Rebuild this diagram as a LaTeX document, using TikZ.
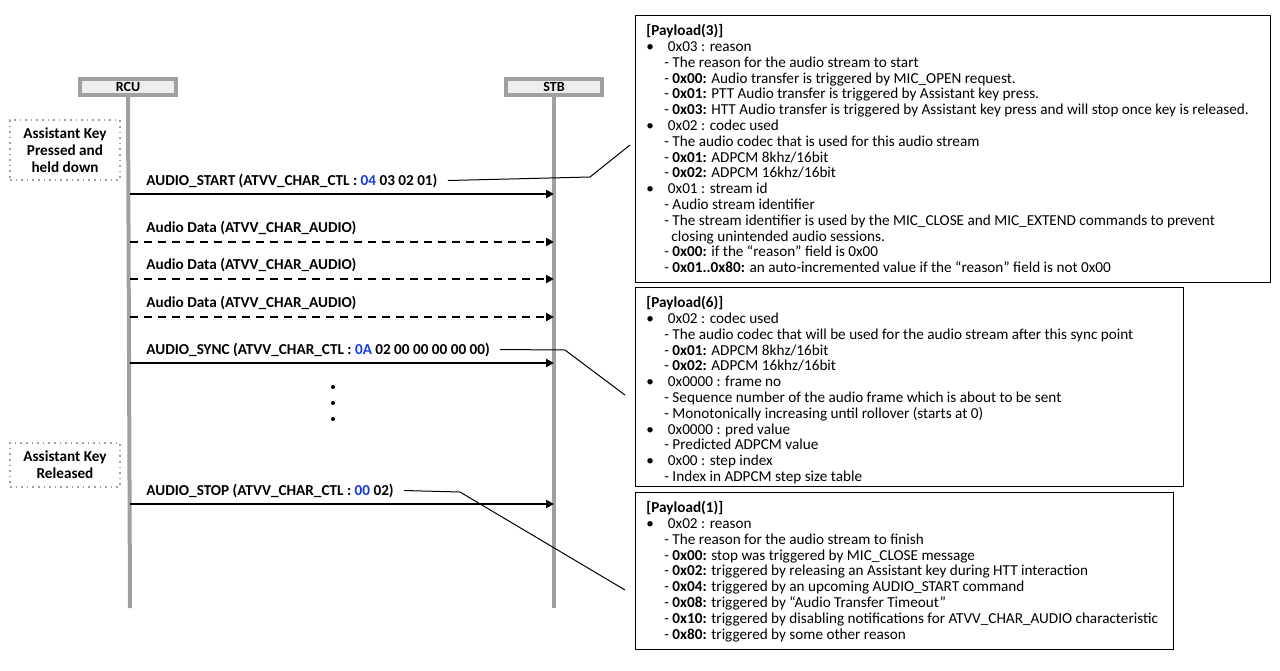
\documentclass[tikz,border=0pt]{standalone}
\usepackage{fontspec}
\setmainfont{Carlito}
\usetikzlibrary{arrows.meta,positioning}
\definecolor{lifegray}{RGB}{160,160,160}
\definecolor{headfill}{RGB}{238,238,238}
\definecolor{valblue}{RGB}{20,60,220}
\tikzset{
  head/.style={draw=lifegray,fill=headfill,line width=2pt,minimum width=48pt,minimum height=8pt,inner sep=0pt,font=\fontsize{7}{8}\selectfont\bfseries},
  life/.style={draw=lifegray,line width=2pt},
  event/.style={draw=lifegray,dotted,thick,minimum width=55pt,align=center,font=\fontsize{7.6}{8.6}\selectfont\bfseries,inner sep=2pt},
  msg/.style={-{Triangle[length=4pt,width=4pt]},line width=1pt},
  data/.style={msg,dash pattern=on 4pt off 3pt},
  lab/.style={anchor=base west,font=\fontsize{7.6}{9}\selectfont\bfseries,inner sep=1pt},
  payload/.style={draw,line width=0.6pt,anchor=north west,inner sep=0pt},
  ptext/.style={anchor=north west,align=left,inner sep=0pt,font=\fontsize{7.6}{7.9}\selectfont},
  leader/.style={line width=0.5pt}
}
\newcommand\hx[1]{\textcolor{valblue}{#1}}
\newcommand\bl{\textbullet\hspace{7pt}}
\newcommand\sub{\hspace{9pt}- }
\begin{document}
\begin{tikzpicture}[x=0.5pt,y=-0.5pt]
\useasboundingbox (0,0) rectangle (1280,670);
% lifelines
\node[head] (rcu) at (128,87) {RCU};
\node[head] (stb) at (554,87) {STB};
\coordinate (rcuend) at (130,608);
\coordinate (stbend) at (554,608);
\draw[life] (rcu.south) -- (rcuend);
\draw[life] (stb.south) -- (stbend);
% key events
\node[event,minimum height=30pt] (press) at (65,150) {Assistant Key\\Pressed and\\held down};
\node[event,minimum height=22pt] (release) at (65,465) {Assistant Key\\Released};
% messages
\foreach \y/\n in {194/m1,242/m2,279/m3,317/m4,363/m5,504/m6}
{
    \coordinate (\n a) at (130,\y);
    \coordinate (\n b) at (554,\y);
}
\node[lab] (l1) at (144,185) {AUDIO\_START (ATVV\_CHAR\_CTL : \hx{04} 03 02 01)};
\node[lab] (l2) at (144,232) {Audio Data (ATVV\_CHAR\_AUDIO)};
\node[lab] (l3) at (144,269) {Audio Data (ATVV\_CHAR\_AUDIO)};
\node[lab] (l4) at (144,307) {Audio Data (ATVV\_CHAR\_AUDIO)};
\node[lab] (l5) at (144,354) {AUDIO\_SYNC (ATVV\_CHAR\_CTL : \hx{0A} 02 00 00 00 00 00)};
\node[lab] (l6) at (144,495) {AUDIO\_STOP (ATVV\_CHAR\_CTL : \hx{00} 02)};
\draw[msg] (m1a) -- (m1b);
\draw[data] (m2a) -- (m2b);
\draw[data] (m3a) -- (m3b);
\draw[data] (m4a) -- (m4b);
\draw[msg] (m5a) -- (m5b);
\draw[msg] (m6a) -- (m6b);
\foreach \y in {387,403,419}
    \fill (333,\y) circle (1pt);
% payload boxes
\node[payload,minimum width=317.5pt,minimum height=133.5pt] (p3) at (635,15) {};
\node[payload,minimum width=274pt,minimum height=99.5pt] (p6) at (635,287) {};
\node[payload,minimum width=269pt,minimum height=78.5pt] (p1) at (635,492) {};
\node[ptext] at ([xshift=5.5pt,yshift=-4.5pt]p3.north west) {\textbf{[Payload(3)]}\\
\bl 0x03 : reason\\
\sub The reason for the audio stream to start\\
\sub \textbf{0x00:} Audio transfer is triggered by MIC\_OPEN request.\\
\sub \textbf{0x01:} PTT Audio transfer is triggered by Assistant key press.\\
\sub \textbf{0x03:} HTT Audio transfer is triggered by Assistant key press and will stop once key is released.\\
\bl 0x02 : codec used\\
\sub The audio codec that is used for this audio stream\\
\sub \textbf{0x01:} ADPCM 8khz/16bit\\
\sub \textbf{0x02:} ADPCM 16khz/16bit\\
\bl 0x01 : stream id\\
\sub Audio stream identifier\\
\sub The stream identifier is used by the MIC\_CLOSE and MIC\_EXTEND commands to prevent\\
\hspace{12.5pt}closing unintended audio sessions.\\
\sub \textbf{0x00:} if the ``reason'' field is 0x00\\
\sub \textbf{0x01..0x80:} an auto-incremented value if the ``reason'' field is not 0x00};
\node[ptext] at ([xshift=5.5pt,yshift=-4.5pt]p6.north west) {\textbf{[Payload(6)]}\\
\bl 0x02 : codec used\\
\sub The audio codec that will be used for the audio stream after this sync point\\
\sub \textbf{0x01:} ADPCM 8khz/16bit\\
\sub \textbf{0x02:} ADPCM 16khz/16bit\\
\bl 0x0000 : frame no\\
\sub Sequence number of the audio frame which is about to be sent\\
\sub Monotonically increasing until rollover (starts at 0)\\
\bl 0x0000 : pred value\\
\sub Predicted ADPCM value\\
\bl 0x00 : step index\\
\sub Index in ADPCM step size table};
\node[ptext] at ([xshift=5.5pt,yshift=-4.5pt]p1.north west) {\textbf{[Payload(1)]}\\
\bl 0x02 : reason\\
\sub The reason for the audio stream to finish\\
\sub \textbf{0x00:} stop was triggered by MIC\_CLOSE message\\
\sub \textbf{0x02:} triggered by releasing an Assistant key during HTT interaction\\
\sub \textbf{0x04:} triggered by an upcoming AUDIO\_START command\\
\sub \textbf{0x08:} triggered by ``Audio Transfer Timeout''\\
\sub \textbf{0x10:} triggered by disabling notifications for ATVV\_CHAR\_AUDIO characteristic\\
\sub \textbf{0x80:} triggered by some other reason};
% leaders
\coordinate (k1) at (590,177);
\coordinate (k2) at (565,350);
\coordinate (k3) at (460,492);
\draw[leader] ([xshift=4pt]l1.east) -- (k1) -- (630,145);
\draw[leader] ([xshift=4pt]l5.east) -- (k2) -- (625,395);
\draw[leader] ([xshift=4pt]l6.east) -- (k3) -- (625,590);
\end{tikzpicture}
\end{document}
